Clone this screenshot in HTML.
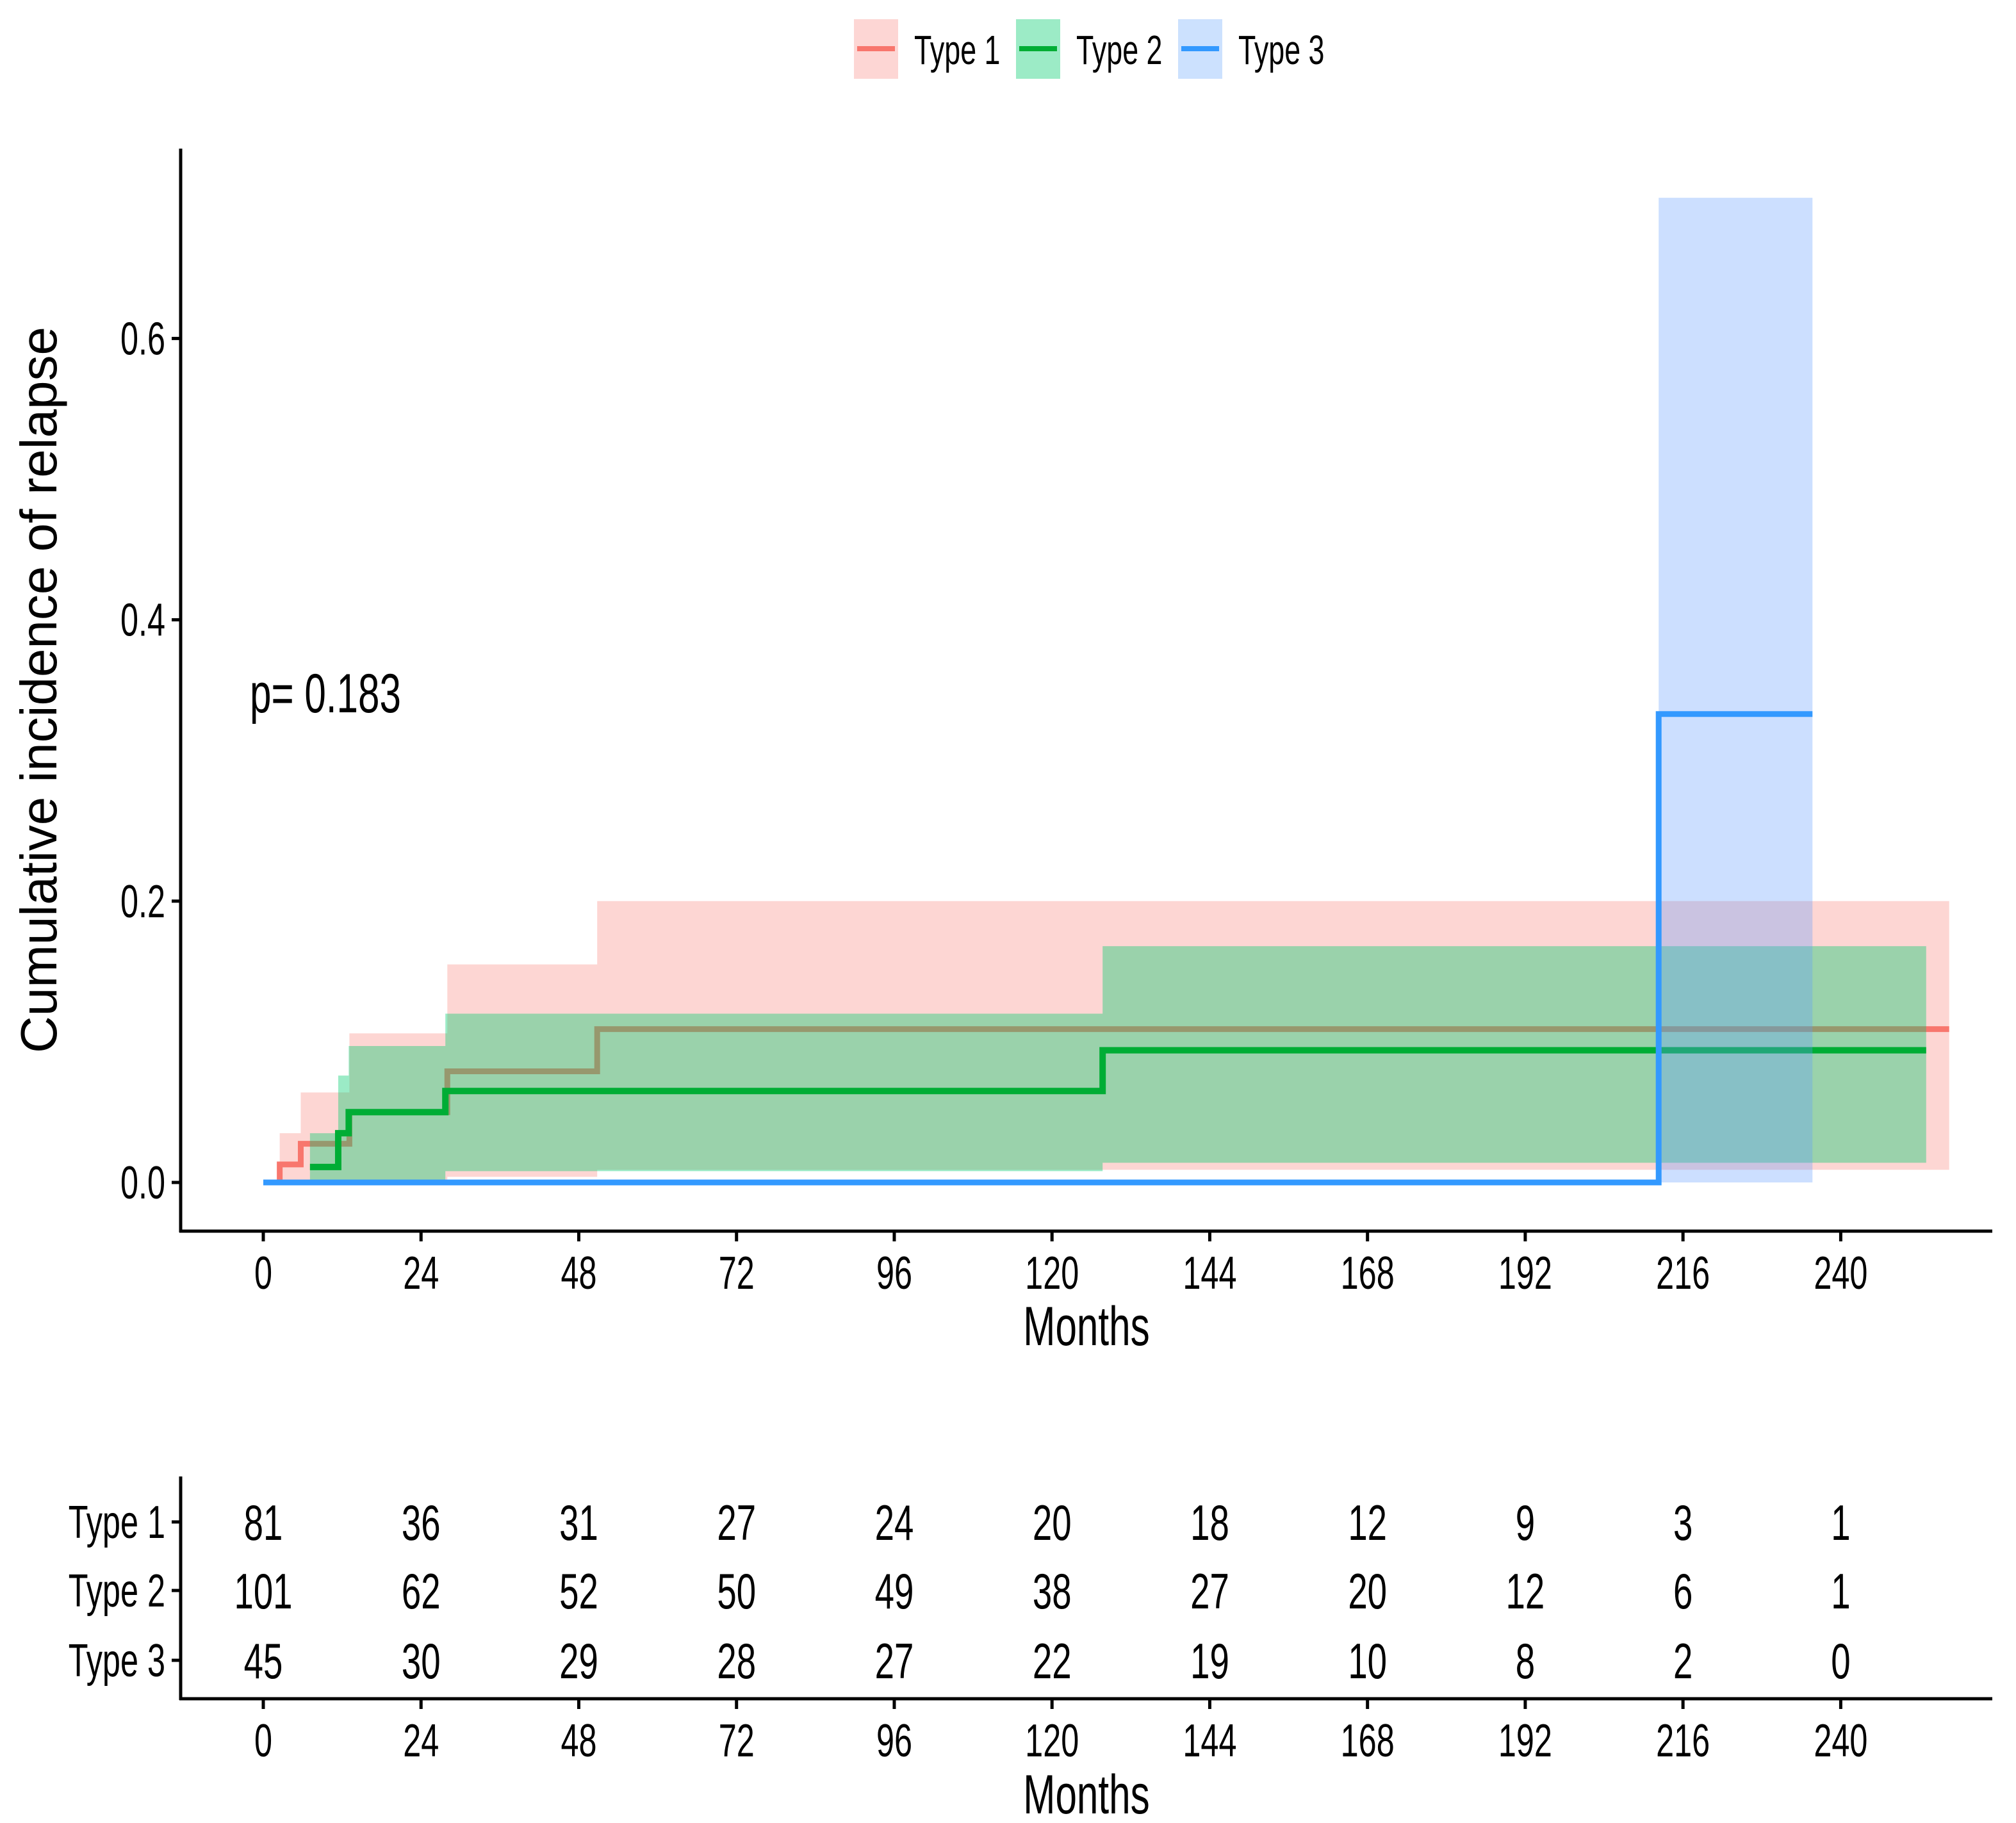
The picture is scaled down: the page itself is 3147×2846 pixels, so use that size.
<!DOCTYPE html>
<html><head><meta charset="utf-8">
<style>
html,body{margin:0;padding:0;background:#fff;}
svg{display:block;}
text{font-family:"Liberation Sans",sans-serif;fill:#000;}
</style></head>
<body>
<svg id="chart" width="3147" height="2846" viewBox="0 0 3147 2846" xmlns="http://www.w3.org/2000/svg">
  <g id="legend"></g>
  <g id="bands"></g>
  <g id="axes"></g>
  <text x="0" y="0" transform="translate(88,1077) rotate(-90)" text-anchor="middle" style="font-size:80px">Cumulative incidence of relapse</text>
  <text x="0" y="0" transform="translate(390,1112) scale(0.7,1)" style="font-size:86px">p= 0.183</text>
  <text x="0" y="0" transform="translate(1696,2100) scale(0.7,1)" text-anchor="middle" style="font-size:86px">Months</text>
  <g id="risk"></g>
  <text x="0" y="0" transform="translate(1696,2831) scale(0.7,1)" text-anchor="middle" style="font-size:86px">Months</text>
</svg>
<script>
// ---- data ----
const groups = ["Type 1", "Type 2", "Type 3"];
const xTicks = [0, 24, 48, 72, 96, 120, 144, 168, 192, 216, 240];
const yTicks = [0.0, 0.2, 0.4, 0.6];
const t1Times = [0, 2.5, 5.7, 13.1, 28, 50.8, 256.5];
const t1Vals  = [0, 0.0128, 0.0275, 0.05, 0.079, 0.109, 0.109];
const t2Times = [7.1, 11.4, 13, 27.7, 127.7, 253];
const t2Vals  = [0.011, 0.035, 0.05, 0.065, 0.094, 0.094];
const t3Times = [0, 212.3, 235.7];
const t3Vals  = [0, 0.333, 0.333];
const t1BandTimes = [2.5, 5.7, 13.1, 28, 50.8, 256.5];
const t1Upper = [0.035, 0.064, 0.106, 0.155, 0.2];
const t1Lower = [0.001, 0.001, 0.001, 0.004, 0.009];
const t2BandTimes = [7.1, 11.4, 13, 27.7, 127.7, 253];
const t2Upper = [0.035, 0.076, 0.097, 0.12, 0.168];
const t2Lower = [0.001, 0.001, 0.001, 0.008, 0.014];
const t3BandTimes = [212.3, 235.7];
const t3Upper = [0.7];
const t3Lower = [0.0];
const riskT1 = [81, 36, 31, 27, 24, 20, 18, 12, 9, 3, 1];
const riskT2 = [101, 62, 52, 50, 49, 38, 27, 20, 12, 6, 1];
const riskT3 = [45, 30, 29, 28, 27, 22, 19, 10, 8, 2, 0];

// ---- scales ----
const X0 = 411, PXM = 10.26;
const Y0 = 1846, PXV = 2196;
const xs = t => X0 + PXM * t;
const ys = v => Y0 - PXV * v;
const NS = "http://www.w3.org/2000/svg";
function mk(tag, attrs, parent){ const e=document.createElementNS(NS,tag); for(const k in attrs) e.setAttribute(k,attrs[k]); parent.appendChild(e); return e; }
function txt(parent, x, y, size, anchor, str){
  const t = mk('text',{x:0,y:0,transform:'translate('+x+','+y+') scale(0.7,1)','text-anchor':anchor,'font-size':size},parent);
  t.textContent = str;
  return t;
}

const bandsG = document.getElementById('bands');
const fills = ["rgba(248,118,109,0.3)", "rgba(5,205,113,0.4)", "rgba(97,156,255,0.32)"];
const lineCols = ["#F8766D", "#00AD35", "#3399FF"];

function drawBand(times, up, lo, fill, idx){
  let top = [], bot = [];
  for(let i=0;i<up.length;i++){
    top.push(xs(times[i])+','+ys(up[i])); top.push(xs(times[i+1])+','+ys(up[i]));
    bot.unshift(xs(times[i])+','+ys(lo[i])); bot.unshift(xs(times[i+1])+','+ys(lo[i]));
  }
  const p = mk('polygon',{points: top.concat(bot).join(' '), fill: fill}, bandsG);
  
  
}
function drawLine(times, vals, col, idx, w){
  let pts = [];
  for(let i=0;i<times.length;i++){
    if(i>0) pts.push(xs(times[i])+','+ys(vals[i-1]));
    pts.push(xs(times[i])+','+ys(vals[i]));
  }
  const l = mk('polyline',{points: pts.join(' '), fill:'none', stroke: col, 'stroke-width': w, 'stroke-linejoin':'miter'}, bandsG);
  
  
}
drawBand(t1BandTimes, t1Upper, t1Lower, fills[0], 1);
drawLine(t1Times, t1Vals, lineCols[0], 1, 9);
drawBand(t2BandTimes, t2Upper, t2Lower, fills[1], 2);
drawLine(t2Times, t2Vals, lineCols[1], 2, 10);
drawBand(t3BandTimes, t3Upper, t3Lower, fills[2], 3);
drawLine(t3Times, t3Vals, lineCols[2], 3, 9);

// ---- axes ----
const ax = document.getElementById('axes');
let e;
e = mk('line',{x1:282,y1:232,x2:282,y2:1924,stroke:'#000','stroke-width':5},ax);
 
e = mk('line',{x1:280,y1:1922,x2:3110,y2:1922,stroke:'#000','stroke-width':5},ax);
 
yTicks.forEach(v=>{
  const y=ys(v);
  const t=mk('line',{x1:268,y1:y,x2:282,y2:y,stroke:'#000','stroke-width':5},ax);
   
  const lb=txt(ax, 258, y+25, 72, 'end', v.toFixed(1));
   
});
xTicks.forEach(v=>{
  const x=xs(v);
  const t=mk('line',{x1:x,y1:1922,x2:x,y2:1938,stroke:'#000','stroke-width':5},ax);
   
  const lb=txt(ax, x, 2012, 72, 'middle', v);
   
});

// ---- legend ----
const lg = document.getElementById('legend');
const legX = [1333, 1586, 1839];
const legFills = ["#FDD6D4", "#9CEBC6", "#CCE1FE"];
groups.forEach((g,i)=>{
  const r=mk('rect',{x:legX[i],y:30,width:69,height:93,fill:legFills[i]},lg);
   
  const l=mk('line',{x1:legX[i]+5,y1:76,x2:legX[i]+64,y2:76,stroke:lineCols[i],'stroke-width':8},lg);
   
  const t=txt(lg, legX[i]+94, 100, 64, 'start', g);
   
});

// ---- risk table ----
const rg = document.getElementById('risk');
e = mk('line',{x1:282,y1:2305,x2:282,y2:2654,stroke:'#000','stroke-width':5},rg);
 
e = mk('line',{x1:280,y1:2652,x2:3110,y2:2652,stroke:'#000','stroke-width':5},rg);
 
const rowY = [2376, 2483, 2592];
const risks = [riskT1, riskT2, riskT3];
groups.forEach((g,i)=>{
  const y=rowY[i];
  const tk=mk('line',{x1:268,y1:y,x2:282,y2:y,stroke:'#000','stroke-width':5},rg);
   
  const lb=txt(rg, 258, y+25, 72, 'end', g);
   
  risks[i].forEach((n,j)=>{
    const c=txt(rg, xs(xTicks[j]), y+28, 78, 'middle', n);
     
  });
});
xTicks.forEach(v=>{
  const x=xs(v);
  const t=mk('line',{x1:x,y1:2652,x2:x,y2:2668,stroke:'#000','stroke-width':5},rg);
   
  const lb=txt(rg, x, 2742, 72, 'middle', v);
   
});
</script>
</body></html>
